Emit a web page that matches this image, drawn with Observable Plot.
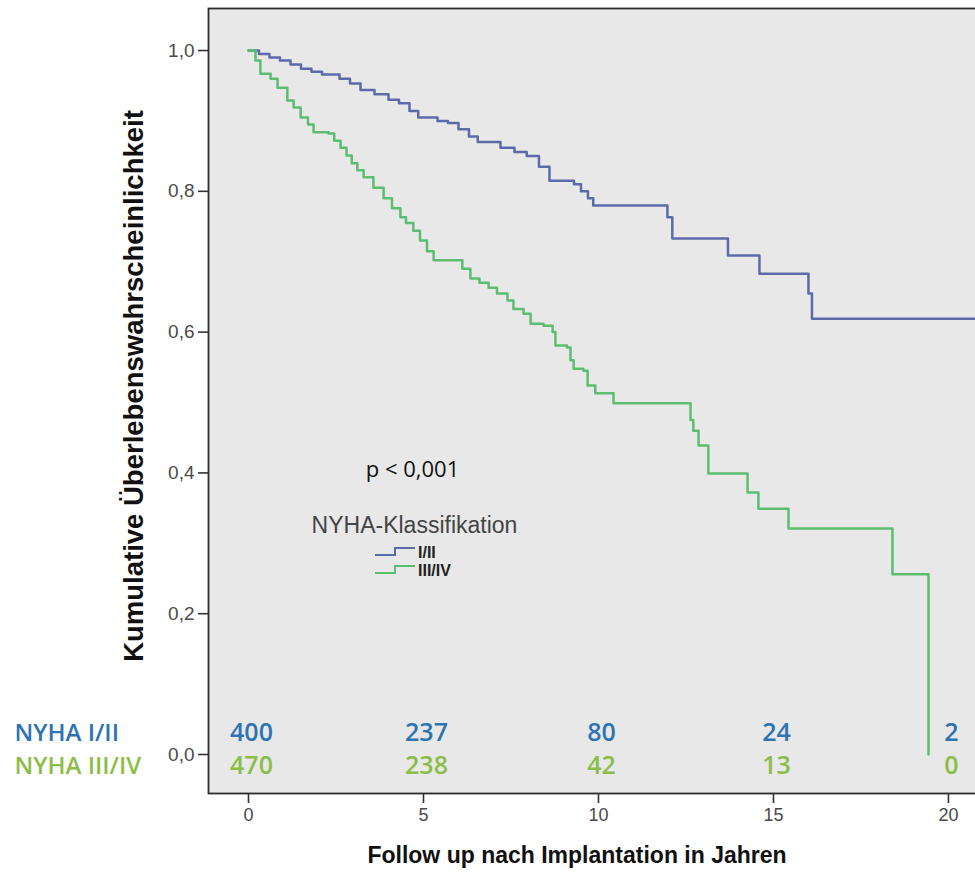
<!DOCTYPE html>
<html><head><meta charset="utf-8">
<script src="https://cdn.jsdelivr.net/npm/d3@7"></script>
<script src="https://cdn.jsdelivr.net/npm/@observablehq/plot@0.6"></script>
<style>body{margin:0;background:#fff;} #chart svg{display:block}</style>
</head><body><div id="chart"></div>
<script>
// ---- data ----
const groups = ["I/II", "III/IV"];
const blueTime = [0,0.3,0.6,0.9,1.2,1.5,1.8,2.1,2.6,2.9,3.2,3.6,4.0,4.3,4.6,4.85,5.4,5.7,6.0,6.3,6.55,7.2,7.6,7.95,8.3,8.6,9.3,9.5,9.7,9.85,11.97,12.11,13.7,14.6,16.0,16.1,20.8];
const blueSurv = [1.0,0.995,0.990,0.986,0.980,0.974,0.970,0.966,0.960,0.953,0.944,0.938,0.930,0.925,0.914,0.905,0.900,0.897,0.888,0.878,0.870,0.862,0.856,0.850,0.835,0.815,0.810,0.800,0.790,0.780,0.763,0.733,0.709,0.683,0.655,0.619,0.619];
const greenTime = [0,0.2,0.34,0.63,0.83,1.11,1.29,1.49,1.7,1.86,2.29,2.45,2.63,2.8,2.95,3.11,3.29,3.57,3.86,4.1,4.34,4.5,4.71,4.9,5.1,5.29,6.11,6.34,6.6,6.86,7.1,7.4,7.57,7.86,8.06,8.43,8.69,8.77,9.1,9.2,9.29,9.57,9.69,9.91,10.43,12.63,12.71,12.86,13.14,14.26,14.57,15.43,18.4,19.43];
const greenSurv = [1.0,0.986,0.967,0.960,0.947,0.929,0.919,0.905,0.895,0.884,0.882,0.872,0.862,0.851,0.840,0.830,0.820,0.805,0.790,0.776,0.763,0.755,0.744,0.730,0.715,0.702,0.690,0.676,0.670,0.663,0.655,0.645,0.633,0.626,0.612,0.609,0.600,0.581,0.578,0.560,0.548,0.545,0.524,0.513,0.499,0.475,0.460,0.439,0.399,0.372,0.349,0.321,0.256,0.0];
const riskTimes = [0, 5, 10, 15, 20];
const riskI = [400, 237, 80, 24, 2];
const riskIII = [470, 238, 42, 13, 0];
const xTicks = [0, 5, 10, 15, 20];
const yTicks = [0, 0.2, 0.4, 0.6, 0.8, 1.0];
const rowLabels = ["NYHA I/II", "NYHA III/IV"];
const pText = "p < 0,001";
const legendTitle = "NYHA-Klassifikation";
const yTitle = "Kumulative Überlebenswahrscheinlichkeit";
const xTitle = "Follow up nach Implantation in Jahren";

// ---- styles ----
const blueC = "#5d6aaa", greenC = "#5cbd70";
const numBlue = "#2e74b5", numGreen = "#8cbd48";
const sans = "'Liberation Sans', Arial, sans-serif";
const human = "'Open Sans', 'Noto Sans', sans-serif";

const curves = [
  ...blueTime.map((t, i) => ({group: groups[0], t, s: blueSurv[i]})),
  ...greenTime.map((t, i) => ({group: groups[1], t, s: greenSurv[i]}))
];
const fmt = d => d.toFixed(1).replace(".", ",");

const chart = Plot.plot({
  width: 975, height: 883,
  marginLeft: 208, marginRight: -2, marginTop: 8, marginBottom: 90,
  x: {domain: [-1.1429, 20.83]},
  y: {domain: [-0.0554, 1.0597]},
  color: {domain: groups, range: [blueC, greenC]},
  style: {background: "#fff", fontFamily: sans, overflow: "visible"},
  marks: [
    Plot.frame({fill: "#e8e8e8", stroke: "#2b2b2b", strokeWidth: 1.8}),
    Plot.axisY(yTicks, {tickFormat: fmt, tickSize: 10, tickPadding: 4, fontSize: 19, fill: "#4a4a4a", stroke: "#333", strokeWidth: 1.6, label: null}),
    Plot.axisX(xTicks, {tickSize: 10, tickPadding: 5, fontSize: 18, fill: "#4a4a4a", stroke: "#333", strokeWidth: 1.6, label: null}),
    Plot.line(curves, {x: "t", y: "s", z: "group", stroke: "group", curve: "step-after", strokeWidth: 2.5}),
    Plot.text(riskTimes, {x: d => d, text: (d, i) => String(riskI[i]), frameAnchor: "bottom", dy: -53, dx: 3, fill: numBlue, fontSize: 25, fontWeight: 600, fontFamily: human}),
    Plot.text(riskTimes, {x: d => d, text: (d, i) => String(riskIII[i]), frameAnchor: "bottom", dy: -20, dx: 3, fill: numGreen, fontSize: 25, fontWeight: 600, fontFamily: human}),
    Plot.text([rowLabels[0]], {frameAnchor: "bottom-left", textAnchor: "start", dx: -194, dy: -53, fill: numBlue, fontSize: 24, fontWeight: 600, fontFamily: human}),
    Plot.text([rowLabels[1]], {frameAnchor: "bottom-left", textAnchor: "start", dx: -194, dy: -20, fill: numGreen, fontSize: 24, fontWeight: 600, fontFamily: human}),
    Plot.text([pText], {frameAnchor: "top-left", textAnchor: "middle", dx: 204, dy: 453, fontSize: 22, fill: "#111", fontFamily: human}),
    Plot.text([legendTitle], {frameAnchor: "top-left", textAnchor: "middle", dx: 206, dy: 508, fontSize: 23, fill: "#444", fontFamily: sans}),
    Plot.text([yTitle], {frameAnchor: "left", textAnchor: "middle", rotate: -90, dx: -74, dy: -15, fontSize: 27.5, fontWeight: "bold", fill: "#111", fontFamily: sans}),
    Plot.text([xTitle], {frameAnchor: "bottom", dx: -16, dy: 69, fontSize: 23, fontWeight: "bold", fill: "#111", fontFamily: sans})
  ]
});
document.getElementById("chart").appendChild(chart);

// small step-shaped legend symbols (legend, not data)
const svg = d3.select(chart);
const lg = svg.append("g").attr("text-anchor", "start");
const entries = [{label: groups[0], color: blueC, y: 555}, {label: groups[1], color: greenC, y: 573}];
for (const e of entries) {
  lg.append("path").attr("d", `M375,${e.y}H395V${e.y - 7}H415`).attr("fill", "none").attr("stroke", e.color).attr("stroke-width", 2);
  lg.append("text").attr("x", 418).attr("y", e.y).attr("dy", "0.2em").attr("text-anchor", "start")
    .attr("font-family", "'Liberation Sans Narrow', 'Arial Narrow', 'Liberation Sans', sans-serif")
    .attr("font-weight", "bold").attr("font-size", 16).attr("fill", "#222").text(e.label);
}
</script>
</body></html>
